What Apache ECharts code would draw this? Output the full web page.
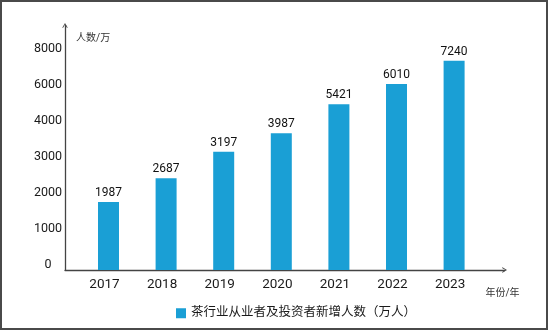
<!DOCTYPE html>
<html>
<head>
<meta charset="utf-8">
<script src="https://cdn.jsdelivr.net/npm/echarts@6/dist/echarts.min.js"></script>
<style>
  html, body { margin: 0; padding: 0; background: #fff; }
  #chart { width: 550px; height: 332px; position: relative; }
  #frame { position: absolute; left: 0; top: 0; width: 544px; height: 326px; border: 2px solid #4a4a4a; pointer-events: none; }
</style>
</head>
<body>
<div id="chart"></div>
<div id="frame"></div>
<script>
// ---- data ----
var years = ['2017', '2018', '2019', '2020', '2021', '2022', '2023'];
var printedValues = [1987, 2687, 3197, 3987, 5421, 6010, 7240];   // numbers printed above the bars
var barValues = [1889, 2547, 3286, 3797, 5206, 6333, 7628];       // bar heights as drawn
var yTicks = [0, 1000, 2000, 3000, 4000, 6000, 8000];             // evenly spaced tick labels
var seriesName = '茶行业从业者及投资者新增人数（万人）';
var yAxisName = '人数/万';
var xAxisName = '年份/年';

// piecewise mapping: the y axis has evenly spaced but unevenly valued ticks
function toUnits(v) {
  for (var i = 0; i < yTicks.length - 1; i++) {
    if (v <= yTicks[i + 1]) {
      return i + (v - yTicks[i]) / (yTicks[i + 1] - yTicks[i]);
    }
  }
  return yTicks.length - 1;
}

var chevron = 'path://M5,0 L10,8.5 L8.8,9.4 L5,3 L1.2,9.4 L0,8.5 Z';
var FONT = "Roboto, 'Noto Sans CJK SC', sans-serif";
var axisColor = '#444';

var chart = echarts.init(document.getElementById('chart'), null, { renderer: 'canvas' });
chart.setOption({
  animation: false,
  backgroundColor: '#fff',
  textStyle: { fontFamily: FONT },
  legend: {
    data: [seriesName],
    left: 171,
    top: 302,
    icon: 'rect',
    itemWidth: 10,
    itemHeight: 10,
    textStyle: { fontSize: 12.5, color: '#1a1a1a', fontFamily: FONT }
  },
  grid: [
    { left: 65, right: 45.5, top: 25.5, bottom: 62 },
    { left: 79.7, width: 403.2, top: 54, bottom: 62 }
  ],
  xAxis: [
    {
      gridIndex: 0, type: 'value', min: 0, max: 1,
      axisLine: { show: true, lineStyle: { color: axisColor, width: 1.3 }, symbol: ['none', chevron], symbolSize: [8, 5] },
      axisTick: { show: false }, axisLabel: { show: false }, splitLine: { show: false },
      name: xAxisName, nameLocation: 'end', nameGap: -2,
      nameTextStyle: { fontSize: 10, color: '#333', align: 'center', verticalAlign: 'top', padding: [18, 0, 0, 0] }
    },
    {
      gridIndex: 1, type: 'category', data: years,
      axisLine: { show: false }, axisTick: { show: false }, splitLine: { show: false },
      axisLabel: { fontSize: 13.5, color: '#1a1a1a', margin: 8, padding: [0, 8, 0, 0] }
    }
  ],
  yAxis: [
    {
      gridIndex: 0, type: 'value', min: 0, max: 1,
      axisLine: { show: true, lineStyle: { color: axisColor, width: 1.3 }, symbol: ['none', chevron], symbolSize: [9, 5] },
      axisTick: { show: false }, axisLabel: { show: false }, splitLine: { show: false },
      name: yAxisName, nameLocation: 'end', nameGap: -12.7,
      nameTextStyle: { fontSize: 10, color: '#333', align: 'left', verticalAlign: 'middle', padding: [0, 0, 0, 11] }
    },
    {
      gridIndex: 1, type: 'value', min: 0, max: yTicks.length - 1, interval: 1,
      axisLine: { show: false }, axisTick: { show: false }, splitLine: { show: false },
      axisLabel: {
        fontSize: 12.5, color: '#1a1a1a', margin: 31.7, align: 'center',
        verticalAlign: 'bottom', lineHeight: 11,
        formatter: function (v) { return String(yTicks[Math.round(v)]); }
      }
    }
  ],
  series: [
    {
      name: seriesName,
      type: 'bar',
      xAxisIndex: 1,
      yAxisIndex: 1,
      barWidth: 21,
      itemStyle: { color: '#1a9fd5' },
      label: {
        show: true, position: 'top', distance: 3,
        fontSize: 12, color: '#111',
        formatter: function (p) { return String(printedValues[p.dataIndex]); }
      },
      data: barValues.map(toUnits)
    }
  ]
});
</script>
</body>
</html>
